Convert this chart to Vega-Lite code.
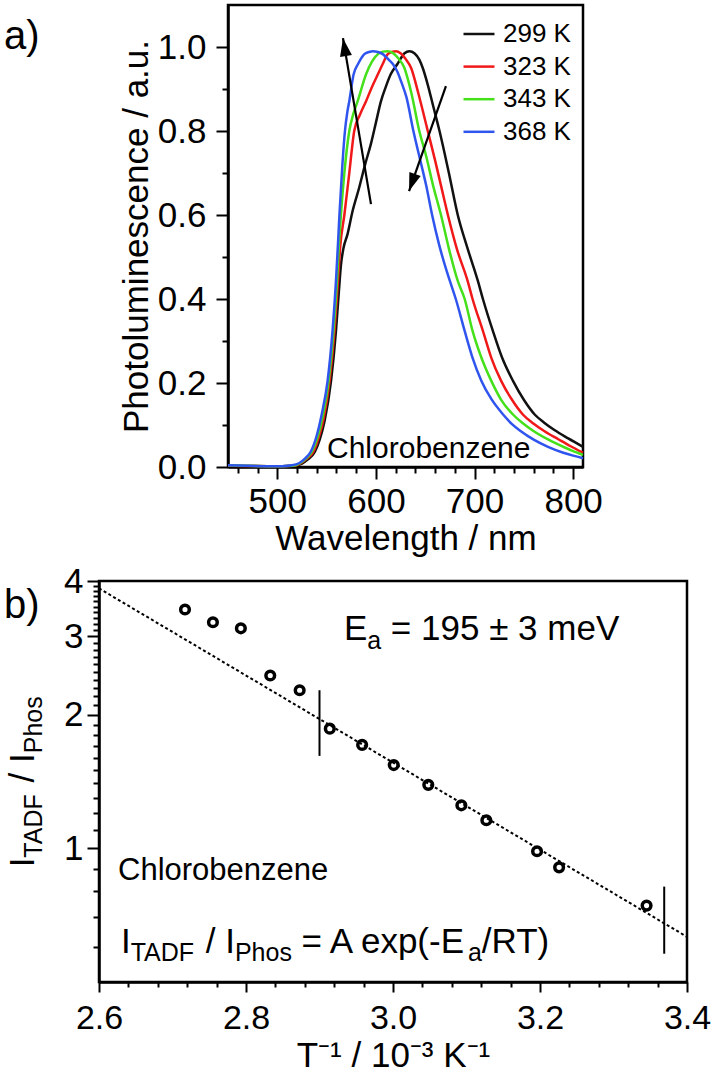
{
  "$schema": "https://vega.github.io/schema/vega-lite/v6.json",
  "background": "white",
  "padding": {"left": 2, "top": 3, "right": 0, "bottom": 0},
  "config": {
    "font": "Liberation Sans",
    "view": {"stroke": "black", "strokeWidth": 2.5},
    "axis": {"domainColor": "black", "domainWidth": 2.5, "tickColor": "black", "tickWidth": 2, "labelColor": "black", "titleColor": "black", "labelFont": "Liberation Sans", "titleFont": "Liberation Sans", "titleFontWeight": "normal", "grid": false, "labelFlush": false, "labelOverlap": false, "labelBound": false},
    "text": {"font": "Liberation Sans", "color": "black"}
  },
  "datasets": {
    "spectra": [
      {"wl": 450, "pl": 0.003, "T": "299 K"}, {"wl": 490, "pl": 0.002, "T": "299 K"}, {"wl": 505, "pl": 0.002, "T": "299 K"}, {"wl": 518, "pl": 0.003, "T": "299 K"}, {"wl": 525, "pl": 0.008, "T": "299 K"}, {"wl": 531, "pl": 0.018, "T": "299 K"}, {"wl": 538, "pl": 0.036, "T": "299 K"}, {"wl": 543, "pl": 0.065, "T": "299 K"}, {"wl": 548, "pl": 0.11, "T": "299 K"}, {"wl": 554.5, "pl": 0.205, "T": "299 K"}, {"wl": 559.5, "pl": 0.324, "T": "299 K"}, {"wl": 562.5, "pl": 0.42, "T": "299 K"}, {"wl": 564.5, "pl": 0.48, "T": "299 K"}, {"wl": 567, "pl": 0.52, "T": "299 K"}, {"wl": 571.3, "pl": 0.555, "T": "299 K"}, {"wl": 576.4, "pl": 0.61, "T": "299 K"}, {"wl": 583, "pl": 0.665, "T": "299 K"}, {"wl": 589, "pl": 0.72, "T": "299 K"}, {"wl": 595, "pl": 0.77, "T": "299 K"}, {"wl": 600, "pl": 0.82, "T": "299 K"}, {"wl": 605, "pl": 0.87, "T": "299 K"}, {"wl": 610, "pl": 0.905, "T": "299 K"}, {"wl": 615, "pl": 0.935, "T": "299 K"}, {"wl": 622, "pl": 0.96, "T": "299 K"}, {"wl": 629, "pl": 0.985, "T": "299 K"}, {"wl": 634, "pl": 0.99, "T": "299 K"}, {"wl": 639, "pl": 0.985, "T": "299 K"}, {"wl": 644, "pl": 0.97, "T": "299 K"}, {"wl": 647.5, "pl": 0.95, "T": "299 K"}, {"wl": 652.6, "pl": 0.91, "T": "299 K"}, {"wl": 658, "pl": 0.86, "T": "299 K"}, {"wl": 664.5, "pl": 0.8, "T": "299 K"}, {"wl": 674, "pl": 0.7, "T": "299 K"}, {"wl": 683, "pl": 0.6, "T": "299 K"}, {"wl": 693, "pl": 0.52, "T": "299 K"}, {"wl": 703.4, "pl": 0.443, "T": "299 K"}, {"wl": 708.5, "pl": 0.4, "T": "299 K"}, {"wl": 718.6, "pl": 0.324, "T": "299 K"}, {"wl": 728, "pl": 0.26, "T": "299 K"}, {"wl": 739, "pl": 0.205, "T": "299 K"}, {"wl": 750, "pl": 0.16, "T": "299 K"}, {"wl": 761, "pl": 0.125, "T": "299 K"}, {"wl": 771, "pl": 0.105, "T": "299 K"}, {"wl": 781, "pl": 0.088, "T": "299 K"}, {"wl": 795, "pl": 0.068, "T": "299 K"}, {"wl": 810, "pl": 0.048, "T": "299 K"},
      {"wl": 450, "pl": 0.003, "T": "323 K"}, {"wl": 490, "pl": 0.002, "T": "323 K"}, {"wl": 505, "pl": 0.002, "T": "323 K"}, {"wl": 517, "pl": 0.003, "T": "323 K"}, {"wl": 524, "pl": 0.009, "T": "323 K"}, {"wl": 530, "pl": 0.02, "T": "323 K"}, {"wl": 536.5, "pl": 0.036, "T": "323 K"}, {"wl": 542, "pl": 0.07, "T": "323 K"}, {"wl": 547, "pl": 0.115, "T": "323 K"}, {"wl": 553, "pl": 0.205, "T": "323 K"}, {"wl": 558, "pl": 0.324, "T": "323 K"}, {"wl": 561.5, "pl": 0.443, "T": "323 K"}, {"wl": 564, "pl": 0.53, "T": "323 K"}, {"wl": 568, "pl": 0.6, "T": "323 K"}, {"wl": 573, "pl": 0.7, "T": "323 K"}, {"wl": 578, "pl": 0.8, "T": "323 K"}, {"wl": 584, "pl": 0.84, "T": "323 K"}, {"wl": 590, "pl": 0.871, "T": "323 K"}, {"wl": 596, "pl": 0.905, "T": "323 K"}, {"wl": 602, "pl": 0.935, "T": "323 K"}, {"wl": 607, "pl": 0.96, "T": "323 K"}, {"wl": 612, "pl": 0.983, "T": "323 K"}, {"wl": 616, "pl": 0.988, "T": "323 K"}, {"wl": 620.4, "pl": 0.99, "T": "323 K"}, {"wl": 625, "pl": 0.985, "T": "323 K"}, {"wl": 630, "pl": 0.972, "T": "323 K"}, {"wl": 635.7, "pl": 0.95, "T": "323 K"}, {"wl": 643, "pl": 0.89, "T": "323 K"}, {"wl": 652.6, "pl": 0.8, "T": "323 K"}, {"wl": 660, "pl": 0.73, "T": "323 K"}, {"wl": 666, "pl": 0.67, "T": "323 K"}, {"wl": 673, "pl": 0.6, "T": "323 K"}, {"wl": 682, "pl": 0.52, "T": "323 K"}, {"wl": 693, "pl": 0.443, "T": "323 K"}, {"wl": 698, "pl": 0.4, "T": "323 K"}, {"wl": 708.5, "pl": 0.324, "T": "323 K"}, {"wl": 717, "pl": 0.26, "T": "323 K"}, {"wl": 727, "pl": 0.205, "T": "323 K"}, {"wl": 738, "pl": 0.16, "T": "323 K"}, {"wl": 749, "pl": 0.125, "T": "323 K"}, {"wl": 760, "pl": 0.103, "T": "323 K"}, {"wl": 771, "pl": 0.085, "T": "323 K"}, {"wl": 785, "pl": 0.066, "T": "323 K"}, {"wl": 797, "pl": 0.05, "T": "323 K"}, {"wl": 810, "pl": 0.034, "T": "323 K"},
      {"wl": 450, "pl": 0.004, "T": "343 K"}, {"wl": 490, "pl": 0.002, "T": "343 K"}, {"wl": 505, "pl": 0.002, "T": "343 K"}, {"wl": 516, "pl": 0.003, "T": "343 K"}, {"wl": 523, "pl": 0.009, "T": "343 K"}, {"wl": 529, "pl": 0.02, "T": "343 K"}, {"wl": 535, "pl": 0.036, "T": "343 K"}, {"wl": 541, "pl": 0.072, "T": "343 K"}, {"wl": 546, "pl": 0.12, "T": "343 K"}, {"wl": 552, "pl": 0.205, "T": "343 K"}, {"wl": 557, "pl": 0.324, "T": "343 K"}, {"wl": 560.5, "pl": 0.443, "T": "343 K"}, {"wl": 562.5, "pl": 0.53, "T": "343 K"}, {"wl": 564.5, "pl": 0.6, "T": "343 K"}, {"wl": 568, "pl": 0.7, "T": "343 K"}, {"wl": 573, "pl": 0.8, "T": "343 K"}, {"wl": 577, "pl": 0.84, "T": "343 K"}, {"wl": 581.5, "pl": 0.871, "T": "343 K"}, {"wl": 590, "pl": 0.935, "T": "343 K"}, {"wl": 596, "pl": 0.965, "T": "343 K"}, {"wl": 602, "pl": 0.983, "T": "343 K"}, {"wl": 607, "pl": 0.989, "T": "343 K"}, {"wl": 612, "pl": 0.99, "T": "343 K"}, {"wl": 617, "pl": 0.986, "T": "343 K"}, {"wl": 622, "pl": 0.975, "T": "343 K"}, {"wl": 628.9, "pl": 0.95, "T": "343 K"}, {"wl": 636, "pl": 0.89, "T": "343 K"}, {"wl": 644, "pl": 0.8, "T": "343 K"}, {"wl": 651, "pl": 0.74, "T": "343 K"}, {"wl": 658, "pl": 0.67, "T": "343 K"}, {"wl": 666, "pl": 0.6, "T": "343 K"}, {"wl": 674, "pl": 0.52, "T": "343 K"}, {"wl": 683, "pl": 0.443, "T": "343 K"}, {"wl": 690, "pl": 0.4, "T": "343 K"}, {"wl": 698, "pl": 0.324, "T": "343 K"}, {"wl": 707, "pl": 0.26, "T": "343 K"}, {"wl": 717, "pl": 0.205, "T": "343 K"}, {"wl": 727, "pl": 0.16, "T": "343 K"}, {"wl": 739, "pl": 0.125, "T": "343 K"}, {"wl": 749, "pl": 0.104, "T": "343 K"}, {"wl": 759, "pl": 0.087, "T": "343 K"}, {"wl": 775, "pl": 0.065, "T": "343 K"}, {"wl": 791, "pl": 0.047, "T": "343 K"}, {"wl": 800, "pl": 0.038, "T": "343 K"}, {"wl": 810, "pl": 0.029, "T": "343 K"},
      {"wl": 450, "pl": 0.004, "T": "368 K"}, {"wl": 470, "pl": 0.003, "T": "368 K"}, {"wl": 490, "pl": 0.002, "T": "368 K"}, {"wl": 505, "pl": 0.002, "T": "368 K"}, {"wl": 515, "pl": 0.004, "T": "368 K"}, {"wl": 522, "pl": 0.009, "T": "368 K"}, {"wl": 528, "pl": 0.02, "T": "368 K"}, {"wl": 534, "pl": 0.037, "T": "368 K"}, {"wl": 540, "pl": 0.075, "T": "368 K"}, {"wl": 545, "pl": 0.125, "T": "368 K"}, {"wl": 551, "pl": 0.205, "T": "368 K"}, {"wl": 556, "pl": 0.324, "T": "368 K"}, {"wl": 559.5, "pl": 0.443, "T": "368 K"}, {"wl": 561.5, "pl": 0.53, "T": "368 K"}, {"wl": 563, "pl": 0.6, "T": "368 K"}, {"wl": 566, "pl": 0.72, "T": "368 K"}, {"wl": 568.6, "pl": 0.8, "T": "368 K"}, {"wl": 571, "pl": 0.845, "T": "368 K"}, {"wl": 573, "pl": 0.871, "T": "368 K"}, {"wl": 577.4, "pl": 0.935, "T": "368 K"}, {"wl": 582, "pl": 0.96, "T": "368 K"}, {"wl": 588.3, "pl": 0.983, "T": "368 K"}, {"wl": 593, "pl": 0.988, "T": "368 K"}, {"wl": 597, "pl": 0.99, "T": "368 K"}, {"wl": 602, "pl": 0.988, "T": "368 K"}, {"wl": 607, "pl": 0.983, "T": "368 K"}, {"wl": 612, "pl": 0.972, "T": "368 K"}, {"wl": 617, "pl": 0.96, "T": "368 K"}, {"wl": 622, "pl": 0.94, "T": "368 K"}, {"wl": 626, "pl": 0.915, "T": "368 K"}, {"wl": 631, "pl": 0.88, "T": "368 K"}, {"wl": 638, "pl": 0.8, "T": "368 K"}, {"wl": 645, "pl": 0.73, "T": "368 K"}, {"wl": 651, "pl": 0.67, "T": "368 K"}, {"wl": 657, "pl": 0.6, "T": "368 K"}, {"wl": 664, "pl": 0.53, "T": "368 K"}, {"wl": 670, "pl": 0.48, "T": "368 K"}, {"wl": 675, "pl": 0.443, "T": "368 K"}, {"wl": 681, "pl": 0.4, "T": "368 K"}, {"wl": 690, "pl": 0.324, "T": "368 K"}, {"wl": 698, "pl": 0.26, "T": "368 K"}, {"wl": 707, "pl": 0.205, "T": "368 K"}, {"wl": 717, "pl": 0.162, "T": "368 K"}, {"wl": 729, "pl": 0.125, "T": "368 K"}, {"wl": 738, "pl": 0.102, "T": "368 K"}, {"wl": 747, "pl": 0.085, "T": "368 K"}, {"wl": 760, "pl": 0.065, "T": "368 K"}, {"wl": 774.5, "pl": 0.048, "T": "368 K"}, {"wl": 790, "pl": 0.034, "T": "368 K"}, {"wl": 800, "pl": 0.027, "T": "368 K"}, {"wl": 810, "pl": 0.021, "T": "368 K"}
    ],
    "arrows": [
      {"arrow": "up", "wl": 595, "pl": 0.626, "wl2": 566.6, "pl2": 1.021},
      {"arrow": "down", "wl": 671, "pl": 0.907, "wl2": 633.6, "pl2": 0.657}
    ],
    "ratio": [
      {"invT": 2.717, "r": 3.45}, {"invT": 2.755, "r": 3.23}, {"invT": 2.793, "r": 3.13}, {"invT": 2.833, "r": 2.45}, {"invT": 2.873, "r": 2.27}, {"invT": 2.914, "r": 1.86}, {"invT": 2.958, "r": 1.71}, {"invT": 3.001, "r": 1.54}, {"invT": 3.048, "r": 1.39}, {"invT": 3.093, "r": 1.25}, {"invT": 3.127, "r": 1.157}, {"invT": 3.196, "r": 0.985}, {"invT": 3.226, "r": 0.906}, {"invT": 3.345, "r": 0.743}
    ],
    "fit": [{"invT": 2.6, "r": 3.85}, {"invT": 3.4, "r": 0.632}],
    "bars": [{"invT": 2.9, "r": 1.615, "r2": 2.27}, {"invT": 3.369, "r": 0.579, "r2": 0.82}],
    "mainText": [
      {"invT": 2.9333, "r": 2.948, "t": "E"},
      {"invT": 2.9971, "r": 2.948, "t": "= 195 ± 3 meV"},
      {"invT": 2.6299, "r": 0.5823, "t": "I"},
      {"invT": 2.7452, "r": 0.5823, "t": "/ I"},
      {"invT": 2.8756, "r": 0.5823, "t": "= A exp(-E"},
      {"invT": 3.1208, "r": 0.5823, "t": "/RT)"}
    ],
    "subText": [
      {"invT": 2.965, "r": 2.813, "t": "a"},
      {"invT": 2.6431, "r": 0.5587, "t": "TADF"},
      {"invT": 2.7849, "r": 0.5587, "t": "Phos"},
      {"invT": 3.1019, "r": 0.5587, "t": "a"}
    ],
    "yTitleMain": [
      {"invT": 2.5116, "r": 0.9061, "t": "I"},
      {"invT": 2.5116, "r": 1.407, "t": "/ I"}
    ],
    "yTitleSub": [
      {"invT": 2.5224, "r": 0.9528, "t": "TADF"},
      {"invT": 2.5224, "r": 1.637, "t": "Phos"}
    ]
  },
  "spacing": 4,
  "resolve": {"scale": {"color": "independent"}, "legend": {"color": "independent"}},
  "vconcat": [
    {
      "spacing": 0,
      "resolve": {"scale": {"color": "independent"}, "legend": {"color": "independent"}},
      "hconcat": [
        {
          "width": 19,
          "height": 462,
          "view": {"stroke": null},
          "data": {"values": [{"px": -5.0, "py": 0.995, "label": "a)"}]},
          "mark": {"type": "text", "align": "left", "baseline": "alphabetic", "fontSize": 40},
          "encoding": {
            "x": {"field": "px", "type": "quantitative", "scale": {"domain": [0, 1], "nice": false, "zero": false}, "axis": null},
            "y": {"field": "py", "type": "quantitative", "scale": {"domain": [0, 1.1], "nice": false}, "axis": null},
            "text": {"field": "label"}
          }
        },
        {
          "width": 355,
          "height": 462,
          "resolve": {"axis": {"x": "independent", "y": "independent"}},
          "layer": [
            {
              "data": {"name": "spectra"},
              "mark": {"type": "line", "strokeWidth": 2.5, "interpolate": "monotone"},
              "encoding": {
                "x": {"field": "wl", "type": "quantitative", "scale": {"domain": [450, 810], "nice": false, "zero": false},
                  "axis": {"orient": "bottom", "values": [500, 600, 700, 800], "format": "d", "tickSize": 12, "labelFontSize": 35, "labelPadding": 5, "title": "Wavelength / nm", "titleFontSize": 35, "titlePadding": 2}},
                "y": {"field": "pl", "type": "quantitative", "scale": {"domain": [0, 1.1], "nice": false},
                  "axis": {"orient": "left", "values": [0, 0.2, 0.4, 0.6, 0.8, 1.0], "format": ".1f", "tickSize": 12, "labelFontSize": 35, "labelPadding": 10, "title": "Photoluminescence / a.u.", "titleFontSize": 35, "titlePadding": 3}},
                "color": {"field": "T", "type": "nominal",
                  "scale": {"domain": ["299 K", "323 K", "343 K", "368 K"], "range": ["#111111", "#f01818", "#44e01a", "#2f55ee"]},
                  "legend": {"orient": "top-right", "offset": 12, "title": null, "symbolType": "stroke", "symbolSize": 961, "symbolStrokeWidth": 2.5, "labelFontSize": 26, "labelOffset": 7, "rowPadding": 2.6, "padding": 0, "labelColor": "black"}}
              }
            },
            {
              "data": {"values": [{"wl": 550.4, "pl": 0.0214, "t": "Chlorobenzene"}]},
              "mark": {"type": "text", "align": "left", "baseline": "alphabetic", "fontSize": 30},
              "encoding": {
                "x": {"field": "wl", "type": "quantitative",
                  "axis": {"orient": "bottom", "values": [460, 480, 520, 540, 560, 580, 620, 640, 660, 680, 720, 740, 760, 780], "labels": false, "domain": false, "tickSize": 6, "title": null}},
                "y": {"field": "pl", "type": "quantitative",
                  "axis": {"orient": "left", "values": [0.1, 0.3, 0.5, 0.7, 0.9], "labels": false, "domain": false, "tickSize": 6, "title": null}},
                "text": {"field": "t"}
              }
            },
            {
              "data": {"name": "arrows"},
              "mark": {"type": "rule", "strokeWidth": 2.2, "color": "black"},
              "encoding": {
                "x": {"field": "wl", "type": "quantitative", "axis": null},
                "y": {"field": "pl", "type": "quantitative", "axis": null},
                "x2": {"field": "wl2"},
                "y2": {"field": "pl2"}
              }
            },
            {
              "data": {"name": "arrows"},
              "transform": [{"filter": "datum.arrow === 'up'"}],
              "mark": {"type": "point", "shape": "M0,0L-0.6,1.8L0.6,1.8Z", "filled": true, "color": "black", "opacity": 1, "size": 400, "angle": 350.4},
              "encoding": {
                "x": {"field": "wl2", "type": "quantitative", "axis": null},
                "y": {"field": "pl2", "type": "quantitative", "axis": null}
              }
            },
            {
              "data": {"name": "arrows"},
              "transform": [{"filter": "datum.arrow === 'down'"}],
              "mark": {"type": "point", "shape": "M0,0L-0.6,1.8L0.6,1.8Z", "filled": true, "color": "black", "opacity": 1, "size": 400, "angle": 199.4},
              "encoding": {
                "x": {"field": "wl2", "type": "quantitative", "axis": null},
                "y": {"field": "pl2", "type": "quantitative", "axis": null}
              }
            }
          ]
        }
      ]
    },
    {
      "width": 588,
      "height": 401,
      "resolve": {"axis": {"x": "independent", "y": "independent"}},
      "layer": [
        {
          "data": {"name": "ratio"},
          "mark": {"type": "point", "shape": "circle", "filled": false, "strokeWidth": 3.5, "size": 75, "color": "black", "opacity": 1},
          "encoding": {
            "x": {"field": "invT", "type": "quantitative", "scale": {"domain": [2.6, 3.4], "nice": false, "zero": false},
              "axis": {"orient": "bottom", "values": [2.6, 2.8, 3.0, 3.2, 3.4], "format": ".1f", "tickSize": 10, "labelFontSize": 34, "labelPadding": 9, "title": "T⁻¹ / 10⁻³ K⁻¹", "titleFontSize": 35, "titlePadding": 3}},
            "y": {"field": "r", "type": "quantitative", "scale": {"type": "log", "domain": [0.5, 4], "nice": false},
              "axis": {"orient": "left", "values": [1, 2, 3, 4], "format": "d", "tickSize": 12, "labelFontSize": 35, "labelPadding": 4, "title": null}}
          }
        },
        {
          "data": {"name": "fit"},
          "mark": {"type": "line", "strokeWidth": 2, "strokeDash": [3, 2.5], "color": "black"},
          "encoding": {
            "x": {"field": "invT", "type": "quantitative",
              "axis": {"orient": "bottom", "values": [2.64, 2.68, 2.72, 2.76, 2.84, 2.88, 2.92, 2.96, 3.04, 3.08, 3.12, 3.16, 3.24, 3.28, 3.32, 3.36], "labels": false, "domain": false, "tickSize": 5, "title": null}},
            "y": {"field": "r", "type": "quantitative",
              "axis": {"orient": "left", "values": [0.6, 0.7, 0.8, 0.9, 1.1, 1.2, 1.3, 1.4, 1.5, 1.6, 1.7, 1.8, 1.9, 2.1, 2.2, 2.3, 2.4, 2.5, 2.6, 2.7, 2.8, 2.9, 3.1, 3.2, 3.3, 3.4, 3.5, 3.6, 3.7, 3.8, 3.9], "labels": false, "domain": false, "tickSize": 6, "title": null}}
          }
        },
        {
          "data": {"name": "bars"},
          "mark": {"type": "rule", "strokeWidth": 2, "color": "black"},
          "encoding": {
            "x": {"field": "invT", "type": "quantitative", "axis": null},
            "y": {"field": "r", "type": "quantitative", "axis": null},
            "y2": {"field": "r2"}
          }
        },
        {
          "data": {"name": "mainText"},
          "mark": {"type": "text", "align": "left", "baseline": "alphabetic", "fontSize": 35},
          "encoding": {
            "x": {"field": "invT", "type": "quantitative", "axis": null},
            "y": {"field": "r", "type": "quantitative", "axis": null},
            "text": {"field": "t"}
          }
        },
        {
          "data": {"name": "subText"},
          "mark": {"type": "text", "align": "left", "baseline": "alphabetic", "fontSize": 25},
          "encoding": {
            "x": {"field": "invT", "type": "quantitative", "axis": null},
            "y": {"field": "r", "type": "quantitative", "axis": null},
            "text": {"field": "t"}
          }
        },
        {
          "data": {"values": [{"invT": 2.6259, "r": 0.8467, "t": "Chlorobenzene"}]},
          "mark": {"type": "text", "align": "left", "baseline": "alphabetic", "fontSize": 31},
          "encoding": {
            "x": {"field": "invT", "type": "quantitative", "axis": null},
            "y": {"field": "r", "type": "quantitative", "axis": null},
            "text": {"field": "t"}
          }
        },
        {
          "data": {"values": [{"invT": 2.4707, "r": 3.305, "t": "b)"}]},
          "mark": {"type": "text", "align": "left", "baseline": "alphabetic", "fontSize": 40},
          "encoding": {
            "x": {"field": "invT", "type": "quantitative", "axis": null},
            "y": {"field": "r", "type": "quantitative", "axis": null},
            "text": {"field": "t"}
          }
        },
        {
          "data": {"name": "yTitleMain"},
          "mark": {"type": "text", "align": "left", "baseline": "alphabetic", "fontSize": 35, "angle": 270},
          "encoding": {
            "x": {"field": "invT", "type": "quantitative", "axis": null},
            "y": {"field": "r", "type": "quantitative", "axis": null},
            "text": {"field": "t"}
          }
        },
        {
          "data": {"name": "yTitleSub"},
          "mark": {"type": "text", "align": "left", "baseline": "alphabetic", "fontSize": 25, "angle": 270},
          "encoding": {
            "x": {"field": "invT", "type": "quantitative", "axis": null},
            "y": {"field": "r", "type": "quantitative", "axis": null},
            "text": {"field": "t"}
          }
        }
      ]
    }
  ]
}
